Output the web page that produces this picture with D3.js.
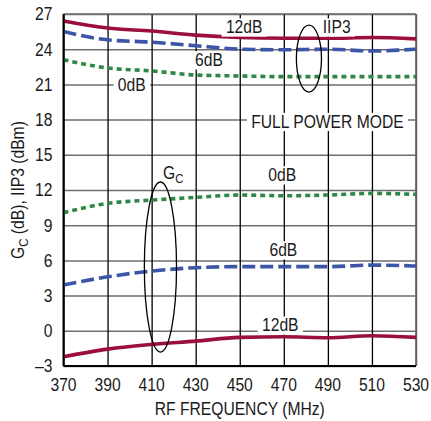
<!DOCTYPE html>
<meta charset="utf-8">
<style>
  body { margin: 0; background: #fff; }
  text { font-family: "Liberation Sans", Arial, sans-serif; fill: #1a1a1a; font-size: 18px; }
</style>
<svg width="431" height="421"></svg>
<script src="https://cdn.jsdelivr.net/npm/d3@7"></script>
<script>

// frequency points (MHz)
var freqs = [370, 390, 410, 430, 450, 470, 490, 510, 530];

// IIP3 (dBm), full power mode
var iip3_12dB = [26.4, 25.8, 25.55, 25.2, 25.0, 24.93, 24.93, 25.0, 24.88];
var iip3_6dB  = [25.5, 24.8, 24.6, 24.3, 24.0, 23.95, 24.0, 23.85, 24.0];
var iip3_0dB  = [23.1, 22.4, 22.15, 21.8, 21.72, 21.66, 21.66, 21.66, 21.66];

// conversion gain Gc (dB)
var gc_0dB  = [10.06, 10.86, 11.14, 11.37, 11.57, 11.51, 11.57, 11.71, 11.63];
var gc_6dB  = [3.9, 4.6, 5.09, 5.38, 5.47, 5.47, 5.47, 5.6, 5.52];
var gc_12dB = [-2.21, -1.56, -1.16, -0.88, -0.56, -0.51, -0.59, -0.42, -0.56];

var xTicks = [370, 390, 410, 430, 450, 470, 490, 510, 530];
var yTicks = [-3, 0, 3, 6, 9, 12, 15, 18, 21, 24, 27];

var svg = d3.select("svg"),
    margin = {top: 14, right: 15, bottom: 55, left: 63.5},
    width = +svg.attr("width") - margin.left - margin.right,
    height = +svg.attr("height") - margin.top - margin.bottom,
    g = svg.append("g").attr("transform", "translate(" + margin.left + "," + margin.top + ")");

var x = d3.scaleLinear().domain([370, 530]).range([0, width]);
var y = d3.scaleLinear().domain([-3, 27]).range([height, 0]);

// condensed look: squeeze text horizontally
var squeeze = 0.87;
function label(parent, px, py, anchor, extra) {
  return parent.append("g")
      .attr("transform", "translate(" + px + "," + py + ")" + (extra || "") + " scale(" + squeeze + ",1)")
    .append("text")
      .attr("text-anchor", anchor);
}

// horizontal grid (grey)
g.append("g")
    .attr("class", "grid")
    .call(d3.axisLeft(y).tickValues(yTicks).tickSize(-width).tickFormat(""))
    .call(function(s) { s.select(".domain").remove(); })
    .selectAll("line").attr("stroke", "#6e6e6e").attr("stroke-width", 1.5);

// vertical grid (black)
g.append("g")
    .attr("class", "grid")
    .attr("transform", "translate(0," + height + ")")
    .call(d3.axisBottom(x).tickValues(xTicks).tickSize(-height).tickFormat(""))
    .call(function(s) { s.select(".domain").remove(); })
    .selectAll("line").attr("stroke", "#000").attr("stroke-width", 1.3);

// frame
g.append("line").attr("x1", width).attr("x2", width).attr("y1", 0).attr("y2", height)
    .attr("stroke", "#6e6e6e").attr("stroke-width", 1.8);
g.append("line").attr("x1", 0).attr("x2", width).attr("y1", 0).attr("y2", 0)
    .attr("stroke", "#6e6e6e").attr("stroke-width", 1.5);

// curves
var line = d3.line()
    .x(function(d, i) { return x(freqs[i]); })
    .y(function(d) { return y(d); })
    .curve(d3.curveMonotoneX);

var red = "#9b0f3c", blue = "#3d55a6", green = "#2f8747";
var series = [
  {v: iip3_0dB, c: green, dash: "5,4"},
  {v: iip3_6dB, c: blue, dash: "13,5"},
  {v: iip3_12dB, c: red, dash: null},
  {v: gc_0dB, c: green, dash: "5,4"},
  {v: gc_6dB, c: blue, dash: "13,5"},
  {v: gc_12dB, c: red, dash: null}
];
series.forEach(function(s) {
  g.append("path")
      .attr("d", line(s.v))
      .attr("fill", "none")
      .attr("stroke", s.c)
      .attr("stroke-width", 3.6)
      .attr("stroke-dasharray", s.dash);
});

// left and bottom axes
g.append("line").attr("x1", 0).attr("x2", 0).attr("y1", 0).attr("y2", height)
    .attr("stroke", "#000").attr("stroke-width", 2);
g.append("line").attr("x1", 0).attr("x2", width).attr("y1", height).attr("y2", height)
    .attr("stroke", "#000").attr("stroke-width", 2);

// tick labels
yTicks.forEach(function(d) {
  label(g, -11, y(d), "end")
      .attr("dy", "0.36em")
      .text(d < 0 ? "\u2013" + (-d) : d);
});
xTicks.forEach(function(d) {
  label(g, x(d), height + 25, "middle").text(d);
});

// axis titles
label(svg, margin.left + width / 2, 415, "middle").text("RF FREQUENCY (MHz)");

var yt = label(svg, 24, margin.top + height / 2, "middle", " rotate(-90)");
yt.append("tspan").text("G");
yt.append("tspan").attr("dy", 4).style("font-size", "13px").text("C");
yt.append("tspan").attr("dy", -4).text(" (dB), IIP3 (dBm)");

// annotation labels with white boxes
var labels = [
  {t: "12dB", f: 452, v: 25.9},
  {t: "IIP3", f: 494, v: 25.9},
  {t: "6dB", f: 436, v: 23.1},
  {t: "0dB", f: 401, v: 20.95},
  {t: "FULL POWER MODE", f: 489.8, v: 17.85},
  {t: "0dB", f: 469.3, v: 13.3},
  {t: "6dB", f: 469.8, v: 6.9},
  {t: "12dB", f: 468.4, v: 0.5}
];
labels.forEach(function(l) {
  var tx = label(g, x(l.f), y(l.v), "middle")
      .attr("dy", "0.36em")
      .text(l.t);
  var bb = tx.node().getBBox();
  d3.select(tx.node().parentNode).insert("rect", "text")
      .attr("x", bb.x - 5).attr("y", bb.y + 1)
      .attr("width", bb.width + 10).attr("height", bb.height - 2)
      .attr("fill", "#fff");
});

// Gc label
var gcl = label(g, x(419.3) - 9, y(13.5), "start").attr("dy", "0.36em");
gcl.append("tspan").text("G");
gcl.append("tspan").attr("dy", 4).style("font-size", "13px").text("C");

// ellipses
var ellipses = [
  {f: 481.4, v: 23.2, rf: 5.7, rv: 2.86},
  {f: 414, v: 5.43, rf: 7.3, rv: 7.25}
];
ellipses.forEach(function(e) {
  g.append("ellipse")
      .attr("cx", x(e.f))
      .attr("cy", y(e.v))
      .attr("rx", x(370 + e.rf) - x(370))
      .attr("ry", y(0) - y(e.rv))
      .attr("fill", "none")
      .attr("stroke", "#000")
      .attr("stroke-width", 1.3);
});

</script>
